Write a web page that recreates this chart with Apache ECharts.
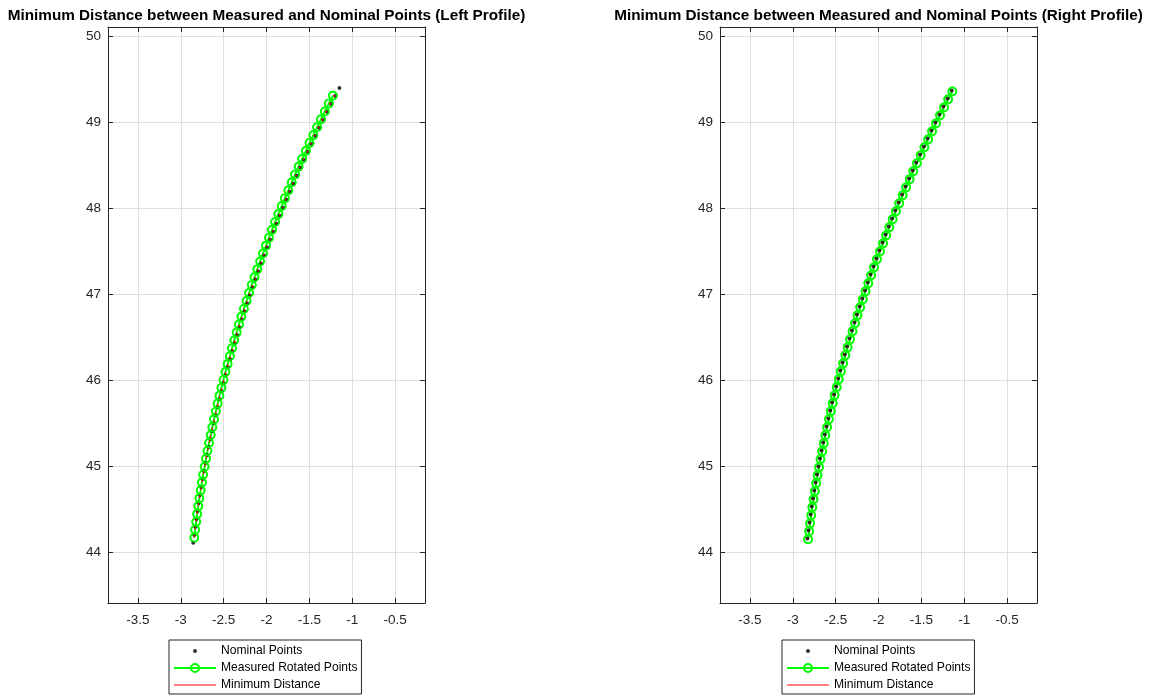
<!DOCTYPE html>
<html>
<head>
<meta charset="utf-8">
<script src="https://cdn.jsdelivr.net/npm/echarts@6/dist/echarts.min.js"></script>
<style>
  html, body { margin: 0; padding: 0; background: #ffffff; }
  #chart { width: 1151px; height: 696px; }
</style>
</head>
<body>
<div id="chart"></div>
<script>
// ---- Left profile: nominal points ----
const leftNominalX = [-2.855,-2.844,-2.831,-2.819,-2.805,-2.791,-2.776,-2.761,-2.745,-2.728,
  -2.711,-2.693,-2.674,-2.654,-2.634,-2.614,-2.592,-2.570,-2.548,-2.524,
  -2.500,-2.476,-2.450,-2.424,-2.398,-2.370,-2.342,-2.314,-2.285,-2.255,
  -2.224,-2.193,-2.161,-2.128,-2.095,-2.061,-2.027,-1.991,-1.956,-1.919,
  -1.882,-1.844,-1.805,-1.766,-1.726,-1.686,-1.645,-1.603,-1.561,-1.517,
  -1.474,-1.429,-1.384,-1.338,-1.292,-1.245,-1.197,-1.149];
const leftNominalY = [44.110,44.203,44.296,44.388,44.481,44.574,44.667,44.760,44.852,44.945,
  45.038,45.131,45.224,45.316,45.409,45.502,45.595,45.688,45.780,45.873,
  45.966,46.059,46.152,46.244,46.337,46.430,46.523,46.616,46.708,46.801,
  46.894,46.987,47.080,47.172,47.265,47.358,47.451,47.544,47.636,47.729,
  47.822,47.915,48.008,48.100,48.193,48.286,48.379,48.472,48.564,48.657,
  48.750,48.843,48.936,49.028,49.121,49.214,49.307,49.400];

// ---- Left profile: measured (rotated) points ----
const leftMeasuredX = [-2.843,-2.833,-2.820,-2.809,-2.796,-2.783,-2.768,-2.754,-2.739,-2.722,
  -2.706,-2.689,-2.671,-2.651,-2.632,-2.613,-2.591,-2.570,-2.549,-2.526,
  -2.502,-2.479,-2.454,-2.428,-2.403,-2.376,-2.349,-2.321,-2.293,-2.264,
  -2.233,-2.203,-2.172,-2.140,-2.107,-2.074,-2.041,-2.005,-1.971,-1.935,
  -1.899,-1.861,-1.823,-1.785,-1.745,-1.706,-1.666,-1.625,-1.583,-1.540,
  -1.498,-1.453,-1.409,-1.364,-1.319,-1.272,-1.225];
const leftMeasuredY = [44.170,44.262,44.354,44.445,44.537,44.629,44.721,44.813,44.904,44.996,
  45.088,45.180,45.272,45.363,45.455,45.547,45.639,45.731,45.822,45.914,
  46.006,46.098,46.190,46.281,46.373,46.465,46.557,46.649,46.741,46.832,
  46.924,47.017,47.109,47.200,47.292,47.384,47.476,47.568,47.659,47.751,
  47.843,47.935,48.027,48.118,48.210,48.302,48.394,48.486,48.577,48.669,
  48.761,48.853,48.945,49.036,49.128,49.220,49.312];

// ---- Right profile: nominal points ----
const rightNominalX = [-2.830,-2.818,-2.806,-2.793,-2.780,-2.766,-2.751,-2.735,-2.719,-2.702,
  -2.685,-2.666,-2.647,-2.628,-2.608,-2.587,-2.565,-2.543,-2.520,-2.496,
  -2.472,-2.447,-2.421,-2.395,-2.368,-2.340,-2.311,-2.282,-2.253,-2.222,
  -2.191,-2.159,-2.127,-2.094,-2.060,-2.026,-1.991,-1.955,-1.918,-1.881,
  -1.843,-1.805,-1.766,-1.726,-1.685,-1.644,-1.602,-1.560,-1.516,-1.472,
  -1.428,-1.383,-1.337,-1.290,-1.243,-1.195,-1.146];
const rightNominalY = [44.160,44.253,44.346,44.439,44.532,44.625,44.718,44.811,44.904,44.997,
  45.090,45.183,45.276,45.370,45.463,45.556,45.649,45.742,45.835,45.928,
  46.021,46.114,46.207,46.300,46.393,46.486,46.579,46.672,46.765,46.858,
  46.951,47.044,47.137,47.230,47.323,47.416,47.509,47.602,47.696,47.789,
  47.882,47.975,48.068,48.161,48.254,48.347,48.440,48.533,48.626,48.719,
  48.812,48.905,48.998,49.091,49.184,49.277,49.370];

// ---- Right profile: measured (rotated) points ----
const rightMeasuredX = [-2.822,-2.810,-2.798,-2.785,-2.772,-2.758,-2.743,-2.727,-2.711,-2.694,
  -2.677,-2.658,-2.639,-2.620,-2.600,-2.579,-2.557,-2.535,-2.512,-2.488,
  -2.464,-2.439,-2.413,-2.387,-2.360,-2.332,-2.303,-2.274,-2.245,-2.214,
  -2.183,-2.151,-2.119,-2.086,-2.052,-2.018,-1.983,-1.947,-1.910,-1.873,
  -1.835,-1.797,-1.758,-1.718,-1.677,-1.636,-1.594,-1.552,-1.508,-1.464,
  -1.420,-1.375,-1.329,-1.282,-1.235,-1.187,-1.138];
const rightMeasuredY = [44.152,44.245,44.338,44.431,44.524,44.617,44.710,44.803,44.896,44.989,
  45.082,45.175,45.268,45.362,45.455,45.548,45.641,45.734,45.827,45.920,
  46.013,46.106,46.199,46.292,46.385,46.478,46.571,46.664,46.757,46.850,
  46.943,47.036,47.129,47.222,47.315,47.408,47.501,47.594,47.688,47.781,
  47.874,47.967,48.060,48.153,48.246,48.339,48.432,48.525,48.618,48.711,
  48.804,48.897,48.990,49.083,49.176,49.269,49.362];

// ---- Axis limits (equal data aspect) ----
const xLimits = [-3.85, -0.15];
const yLimits = [43.41, 50.11];

const titles = [
  'Minimum Distance between Measured and Nominal Points (Left Profile)',
  'Minimum Distance between Measured and Nominal Points (Right Profile)'
];
const legendNames = ['Nominal Points', 'Measured Rotated Points', 'Minimum Distance'];

const FONT = '"Liberation Sans", Arial, Helvetica, sans-serif';
const AXIS_COLOR = '#262626';
const GRID_COLOR = '#dfdfdf';
const GREEN = '#00ff00';

function zip(xs, ys) { return xs.map((x, i) => [x, ys[i]]); }

// For every measured point, a segment to its closest nominal point
function minDistanceSegments(mx, my, nx, ny) {
  const out = [];
  for (let i = 0; i < mx.length; i++) {
    let best = 0, bestD = Infinity;
    for (let j = 0; j < nx.length; j++) {
      const d = (mx[i] - nx[j]) ** 2 + (my[i] - ny[j]) ** 2;
      if (d < bestD) { bestD = d; best = j; }
    }
    out.push([mx[i], my[i]], [nx[best], ny[best]], ['-', '-']);
  }
  return out;
}

const panels = [
  { left: 108, nx: leftNominalX, ny: leftNominalY, mx: leftMeasuredX, my: leftMeasuredY, legendLeft: 169 },
  { left: 720, nx: rightNominalX, ny: rightNominalY, mx: rightMeasuredX, my: rightMeasuredY, legendLeft: 782 }
];

const grid = [], xAxis = [], yAxis = [], series = [], title = [], legend = [];

panels.forEach((p, k) => {
  grid.push({ left: p.left, top: 27, width: 317, height: 576, outerBoundsMode: 'none' });

  title.push({
    text: titles[k], left: p.left + 158.5, top: 8, textAlign: 'center', padding: 0,
    textStyle: { fontFamily: FONT, fontSize: 15.3, fontWeight: 'bold', color: '#000' }
  });

  const base = {
    gridIndex: k, type: 'value', min: xLimits[0], max: xLimits[1], splitNumber: 7,
    axisLine: { show: true, onZero: false, lineStyle: { color: AXIS_COLOR, width: 1 } },
    axisTick: { show: true, inside: true, length: 5, lineStyle: { color: AXIS_COLOR } }
  };
  const labelStyle = { showMinLabel: false, showMaxLabel: false, color: AXIS_COLOR, fontSize: 13.5, fontFamily: FONT };
  xAxis.push(Object.assign({}, base, {
    position: 'bottom',
    axisLabel: Object.assign({ margin: 10 }, labelStyle),
    splitLine: { show: true, lineStyle: { color: GRID_COLOR, width: 1 } }
  }));
  xAxis.push(Object.assign({}, base, {
    position: 'top', axisLabel: { show: false }, splitLine: { show: false }
  }));
  const ybase = Object.assign({}, base, { min: yLimits[0], max: yLimits[1] });
  yAxis.push(Object.assign({}, ybase, {
    position: 'left',
    axisLabel: Object.assign({ margin: 7 }, labelStyle),
    splitLine: { show: true, lineStyle: { color: GRID_COLOR, width: 1 } }
  }));
  yAxis.push(Object.assign({}, ybase, {
    position: 'right', axisLabel: { show: false }, splitLine: { show: false }
  }));

  const xi = k * 2, yi = k * 2;
  // connecting line of the measured points (under the nominal dots)
  series.push({
    name: legendNames[1], type: 'line', xAxisIndex: xi, yAxisIndex: yi,
    data: zip(p.mx, p.my), symbol: 'circle', symbolSize: 8, showAllSymbol: true,
    lineStyle: { color: GREEN, width: 2 },
    itemStyle: { color: 'rgba(0,0,0,0)', borderColor: GREEN, borderWidth: 1.7 },
    z: 2, animation: false
  });
  series.push({
    name: legendNames[0], type: 'scatter', xAxisIndex: xi, yAxisIndex: yi,
    data: zip(p.nx, p.ny), symbol: 'circle', symbolSize: 4,
    itemStyle: { color: '#000000' }, z: 3, animation: false
  });
  series.push({
    name: legendNames[2], type: 'line', xAxisIndex: xi, yAxisIndex: yi,
    data: minDistanceSegments(p.mx, p.my, p.nx, p.ny), connectNulls: false,
    symbol: 'none', lineStyle: { color: '#ff0000', width: 1 }, itemStyle: { color: '#ff0000' },
    z: 4, animation: false
  });
  // measured circle markers drawn over the nominal dots
  series.push({
    name: legendNames[1], type: 'scatter', xAxisIndex: xi, yAxisIndex: yi,
    data: zip(p.mx, p.my), symbol: 'circle', symbolSize: 8,
    itemStyle: { color: 'rgba(0,0,0,0)', borderColor: GREEN, borderWidth: 1.7 },
    z: 5, animation: false
  });

  legend.push({
    left: p.legendLeft, top: 640, orient: 'vertical', selectedMode: false,
    padding: [5, 4, 3, 4], itemGap: 5, itemWidth: 42, itemHeight: 10,
    borderColor: AXIS_COLOR, borderWidth: 1, backgroundColor: '#ffffff',
    textStyle: { fontFamily: FONT, fontSize: 12.1, color: '#000' },
    data: [
      { name: legendNames[0], icon: 'path://M0,0M42,10M19,5a2,2 0 1 0 4,0a2,2 0 1 0 -4,0z', itemStyle: { color: '#000' } },
      { name: legendNames[1] },
      { name: legendNames[2], icon: 'path://M0,0H42V1.2H0Z', itemStyle: { color: '#ff0000' } }
    ]
  });
});

const chart = echarts.init(document.getElementById('chart'), null, { renderer: 'canvas' });
chart.setOption({
  animation: false,
  backgroundColor: '#ffffff',
  title, grid, xAxis, yAxis, legend, series
});
</script>
</body>
</html>
